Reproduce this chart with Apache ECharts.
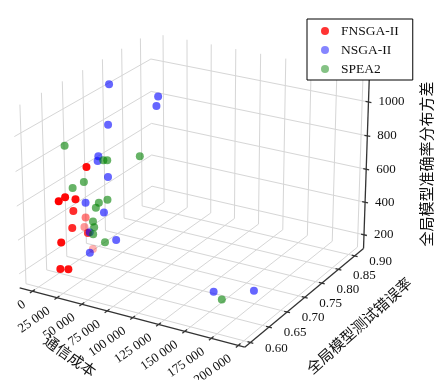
<!DOCTYPE html>
<html><head><meta charset="utf-8">
<script src="https://cdn.jsdelivr.net/npm/echarts@6/dist/echarts.min.js"></script>
<style>html,body{margin:0;padding:0;background:#fff}#c{width:437px;height:380px}</style>
</head><body><div id="c"></div>
<script>
// ---------------- data ----------------
const seriesNames = ['FNSGA-II', 'NSGA-II', 'SPEA2'];

const fnsgaCost  = [26300, 14400, 16700, 22900, 16200, 7650, 18900, 2000, 26300, 20100, 6200, 22800, 28800];
const fnsgaError = [0.66, 0.62, 0.63, 0.64, 0.65, 0.70, 0.64, 0.71, 0.66, 0.61, 0.72, 0.60, 0.605];
const fnsgaVar   = [769, 613, 624, 606, 511, 383, 430, 302, 380, 394, 156, 257, 257];

const nsgaCost  = [5000, 50000, 45000, 10000, 8000, 15000, 20000, 5000, 25000, 12000, 35000, 15000, 150000, 185000];
const nsgaError = [0.7715, 0.7833, 0.7917, 0.755, 0.734, 0.715, 0.728, 0.707, 0.704, 0.699, 0.709, 0.691, 0.66, 0.669];
const nsgaVar   = [1071, 1037, 964, 860, 700, 708, 600, 458, 431, 302, 271, 194, 216, 260];

const speaCost  = [3000, 20000, 24000, 40000, 15000, 8000, 22000, 28000, 18000, 16000, 20000, 18000, 30000, 160000];
const speaError = [0.664, 0.717, 0.717, 0.760, 0.680, 0.669, 0.699, 0.706, 0.701, 0.698, 0.691, 0.693, 0.693, 0.654];
const speaVar   = [856, 717, 722, 704, 636, 607, 493, 508, 455, 374, 355, 307, 276, 197];

const xTicks = [0, 25000, 50000, 75000, 100000, 125000, 150000, 175000, 200000];
const xTickLabels = ['0', '25 000', '50 000', '75 000', '100 000', '125 000', '150 000', '175 000', '200 000'];
const yTicks = [0.60, 0.65, 0.70, 0.75, 0.80, 0.85, 0.90];
const yTickLabels = ['0.60', '0.65', '0.70', '0.75', '0.80', '0.85', '0.90'];
const zTicks = [200, 400, 600, 800, 1000];
const zTickLabels = ['200', '400', '600', '800', '1000'];

const xTitle = '通信成本';
const yTitle = '全局模型测试错误率';
const zTitle = '全局模型准确率分布方差';

// ---------------- view / style ----------------
const VIEW = {elev: 23, azim: -60, dist: 33.6, aspect: [4, 4, 3], cx: 195, cy: 181, scale: 64};
const LIMITS = {x: [-13000, 206000], y: [0.585, 0.928], z: [115, 1160]};
const COLORS = ['#ff0000', 'rgba(0,0,255,0.6)', 'rgba(0,128,0,0.6)'];
const DEPTHSHADE = [true, false, false];
const TICKFONT = '"Liberation Serif", "DejaVu Serif", serif';
const CJKFONT = '"Noto Sans CJK SC", sans-serif';

const el = VIEW.elev * Math.PI / 180, az = VIEW.azim * Math.PI / 180;
const R = [-Math.sin(az), Math.cos(az), 0];
const U = [-Math.sin(el) * Math.cos(az), -Math.sin(el) * Math.sin(az), Math.cos(el)];
const F = [-Math.cos(el) * Math.cos(az), -Math.cos(el) * Math.sin(az), -Math.sin(el)];

function toWorld(x, y, z) {
  const L = [LIMITS.x, LIMITS.y, LIMITS.z], v = [x, y, z];
  return v.map((t, i) => ((t - (L[i][0] + L[i][1]) / 2) / (L[i][1] - L[i][0])) * VIEW.aspect[i]);
}
function project(x, y, z) {
  const p = toWorld(x, y, z);
  const dot = a => a[0] * p[0] + a[1] * p[1] + a[2] * p[2];
  const depth = VIEW.dist + dot(F);
  const k = VIEW.dist / depth;
  return {u: dot(R) * k, v: dot(U) * k, depth: depth};
}

function buildSeriesData(cost, err, vari, shade) {
  const pts = cost.map((c, i) => project(c, err[i], vari[i]));
  const ds = pts.map(p => p.depth);
  const dmin = Math.min(...ds), dmax = Math.max(...ds);
  const items = pts.map(p => {
    const n = dmax > dmin ? (p.depth - dmin) / (dmax - dmin) : 0;
    return {value: [p.u, p.v], depth: p.depth, itemStyle: {opacity: shade ? 1 - 0.7 * n : 1}};
  });
  items.sort((a, b) => b.depth - a.depth);
  return items.map(it => ({value: it.value, itemStyle: it.itemStyle}));
}

const allData = [
  buildSeriesData(fnsgaCost, fnsgaError, fnsgaVar, DEPTHSHADE[0]),
  buildSeriesData(nsgaCost, nsgaError, nsgaVar, DEPTHSHADE[1]),
  buildSeriesData(speaCost, speaError, speaVar, DEPTHSHADE[2])
];

function renderFrame(params, api) {
  const [x0, x1] = LIMITS.x, [y0, y1] = LIMITS.y, [z0, z1] = LIMITS.z;
  const P = (x, y, z) => { const q = project(x, y, z); return api.coord([q.u, q.v]); };
  const ch = [];
  const gridStyle = {stroke: '#d6d6d6', lineWidth: 1};
  const axisStyle = {stroke: '#333', lineWidth: 1.3};
  const seg = (a, b, st) => ch.push({type: 'line', shape: {x1: a[0], y1: a[1], x2: b[0], y2: b[1]}, style: st});
  // floor z0
  xTicks.forEach(t => seg(P(t, y0, z0), P(t, y1, z0), gridStyle));
  yTicks.forEach(t => seg(P(x0, t, z0), P(x1, t, z0), gridStyle));
  // pane x = x0
  yTicks.forEach(t => seg(P(x0, t, z0), P(x0, t, z1), gridStyle));
  zTicks.forEach(t => seg(P(x0, y0, t), P(x0, y1, t), gridStyle));
  // pane y = y1
  xTicks.forEach(t => seg(P(t, y1, z0), P(t, y1, z1), gridStyle));
  zTicks.forEach(t => seg(P(x0, y1, t), P(x1, y1, t), gridStyle));
  // axis lines
  seg(P(x0, y0, z0), P(x1, y0, z0), axisStyle);
  seg(P(x1, y0, z0), P(x1, y1, z0), axisStyle);
  seg(P(x1, y1, z0), P(x1, y1, z1), axisStyle);
  const unit = (a, b) => { const dx = b[0] - a[0], dy = b[1] - a[1], l = Math.hypot(dx, dy); return [dx / l, dy / l]; };
  const tick = (p, d) => seg([p[0] - 3 * d[0], p[1] - 3 * d[1]], [p[0] + 3 * d[0], p[1] + 3 * d[1]], axisStyle);
  const txt = (p, s, opt) => ch.push({type: 'text', x: p[0], y: p[1], rotation: (opt.rot || 0) * Math.PI / 180,
    style: {text: s, fill: '#111', fontSize: opt.size, fontFamily: opt.font, align: opt.align, verticalAlign: 'middle'}});
  // x ticks
  xTicks.forEach((t, i) => {
    const p = P(t, y0, z0);
    tick(p, unit(P(t, y0, z0), P(t, y1, z0)));
    txt([p[0] - 8, p[1] + 12], xTickLabels[i], {size: 13, font: TICKFONT, align: 'right', rot: 35});
  });
  // y ticks
  yTicks.forEach((t, i) => {
    const p = P(x1, t, z0);
    tick(p, unit(P(x0, t, z0), P(x1, t, z0)));
    txt([p[0] + 26, p[1] + 6], yTickLabels[i], {size: 13, font: TICKFONT, align: 'center'});
  });
  // z ticks
  zTicks.forEach((t, i) => {
    const p = P(x1, y1, t);
    tick(p, unit(P(x0, y1, t), P(x1, y1, t)));
    txt([p[0] + 10, p[1]], zTickLabels[i], {size: 13, font: TICKFONT, align: 'left'});
  });
  // titles
  const xm = P((x0 + x1) / 2, y0, z0);
  txt([xm[0] - 59, xm[1] + 39], xTitle, {size: 15, font: CJKFONT, align: 'center', rot: -35.5});
  const ym = P(x1, (y0 + y1) / 2, z0);
  txt([ym[0] + 52, ym[1] + 30], yTitle, {size: 15, font: CJKFONT, align: 'center', rot: 42});
  const zm = P(x1, y1, (z0 + z1) / 2);
  txt([zm[0] + 60, zm[1] + 1], zTitle, {size: 15, font: CJKFONT, align: 'center', rot: 90});
  return {type: 'group', children: ch};
}

const W = 437, H = 380;
const chart = echarts.init(document.getElementById('c'), null, {renderer: 'canvas'});
chart.setOption({
  animation: false,
  backgroundColor: '#fff',
  grid: {left: 0, right: 0, top: 0, bottom: 0},
  xAxis: {type: 'value', min: -VIEW.cx / VIEW.scale, max: (W - VIEW.cx) / VIEW.scale, show: false},
  yAxis: {type: 'value', min: (VIEW.cy - H) / VIEW.scale, max: VIEW.cy / VIEW.scale, show: false},
  legend: {
    orient: 'vertical', left: 307, top: 19, padding: [5, 14, 4, 14], itemGap: 5,
    itemWidth: 22, itemHeight: 8, icon: 'circle',
    borderColor: '#000', borderWidth: 1, borderRadius: 0, backgroundColor: '#fff',
    textStyle: {fontFamily: TICKFONT, fontSize: 13.5, color: '#111', lineHeight: 14},
    data: seriesNames
  },
  series: [
    {type: 'custom', silent: true, clip: false, z: 1, renderItem: renderFrame, data: [[0, 0]], encode: {x: 0, y: 1}},
    ...seriesNames.map((n, i) => ({
      type: 'scatter', name: n, symbol: 'circle', symbolSize: 8, z: 2 + i,
      itemStyle: {color: COLORS[i]}, emphasis: {disabled: true}, data: allData[i]
    }))
  ]
});
</script>
</body></html>
